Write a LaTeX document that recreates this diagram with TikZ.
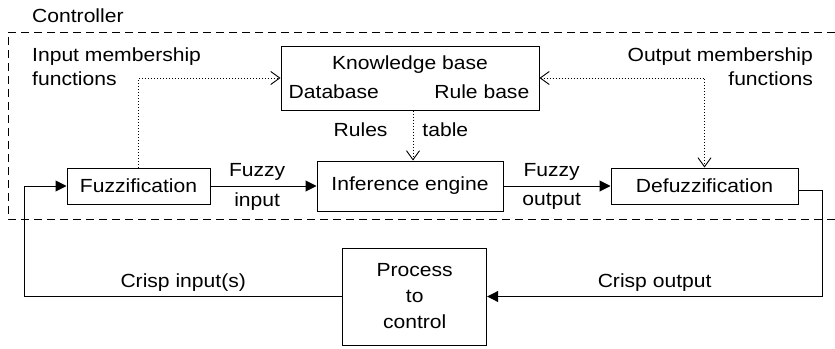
\documentclass[tikz,border=0pt]{standalone}
\usepackage{fontspec}
\setmainfont{Liberation Sans}[FakeStretch=1.11]
\usetikzlibrary{positioning,arrows.meta}

\begin{document}
\begin{tikzpicture}[
    x=1pt, y=-1pt,
    font=\fontsize{19}{24}\selectfont,
    block/.style={draw, line width=1pt, minimum height=36pt, align=center,
                  inner sep=0pt},
    lbl/.style={inner sep=0pt, align=center},
    arr/.style={-{Triangle[length=11pt,width=11pt]}, line width=1pt},
    barb/.tip={Straight Barb[length=9pt,width=13pt]},
    dotarr/.style={-barb, line width=0.9pt, dash pattern=on 1pt off 2pt},
    frame/.style={line width=1pt, dash pattern=on 8pt off 5pt},
  ]
  \useasboundingbox (0,0) rectangle (835,348);

  % Controller frame (open on the right)
  \draw[frame] (835,32) -- (8,32) -- (8,219) -- (835,219);
  \node[lbl, anchor=base west] (ctrl) at (32,23) {Controller};

  % Row: fuzzy pipeline
  \node[block, minimum width=186pt, minimum height=50pt] (inf) at (410,186) {Inference engine};
  \node[block, minimum width=143pt, left=106pt of inf] (fuzz) {Fuzzification};
  \node[block, minimum width=187pt, right=107pt of inf] (defuzz) {Defuzzification};

  % Knowledge base
  \node[block, minimum width=258pt, minimum height=64pt, above=50pt of inf] (kb) {};
  \node[lbl, anchor=base] (kbtitle) at ([yshift=-24pt]kb.north) {Knowledge base};
  \node[lbl, anchor=base west] (db) at ([xshift=8pt,yshift=-53pt]kb.north west) {Database};
  \node[lbl, anchor=base east] (rb) at ([xshift=-10pt,yshift=-53pt]kb.north east) {Rule base};

  % Membership function labels
  \node[lbl, align=left, anchor=north west] (inmf) at (32,48) {Input membership\\functions};
  \node[lbl, align=right, anchor=north east] (outmf) at (813,48) {Output membership\\functions};

  % Process
  \node[block, minimum width=144pt, minimum height=97pt, below=36pt of inf, xshift=4.7pt,
        font=\fontsize{19}{26}\selectfont] (proc) {Process\\to\\control};

  % Arrows: main pipeline
  \draw[arr] (fuzz) -- node[lbl, pos=.44, yshift=14pt] {Fuzzy}
                       node[lbl, pos=.44, yshift=-15.5pt] {input} (inf);
  \draw[arr] (inf) -- node[lbl, pos=.45, yshift=14pt] {Fuzzy}
                      node[lbl, pos=.45, yshift=-15.5pt] {output} (defuzz);

  % Arrows: feedback loop
  \draw[arr] ([yshift=-4pt]defuzz.east) -- ++(23.5,0) |- node[lbl, pos=.75, yshift=14pt] {Crisp output} (proc.east);
  \draw[arr] (proc.west) -- node[lbl, yshift=14pt] {Crisp input(s)} ++(-318,0) |- (fuzz.west);

  % Dotted: membership functions and rules
  \draw[dotarr] (fuzz.north) |- (kb.west);
  \draw[dotarr, barb-barb] (kb.east) -| (defuzz.north);
  \draw[dotarr] ([xshift=3pt]kb.south) --
      node[lbl, pos=.38, anchor=east, xshift=-25pt] {Rules}
      node[lbl, pos=.38, anchor=west, xshift=9pt] {table} ([xshift=3pt]inf.north);
\end{tikzpicture}
\end{document}
